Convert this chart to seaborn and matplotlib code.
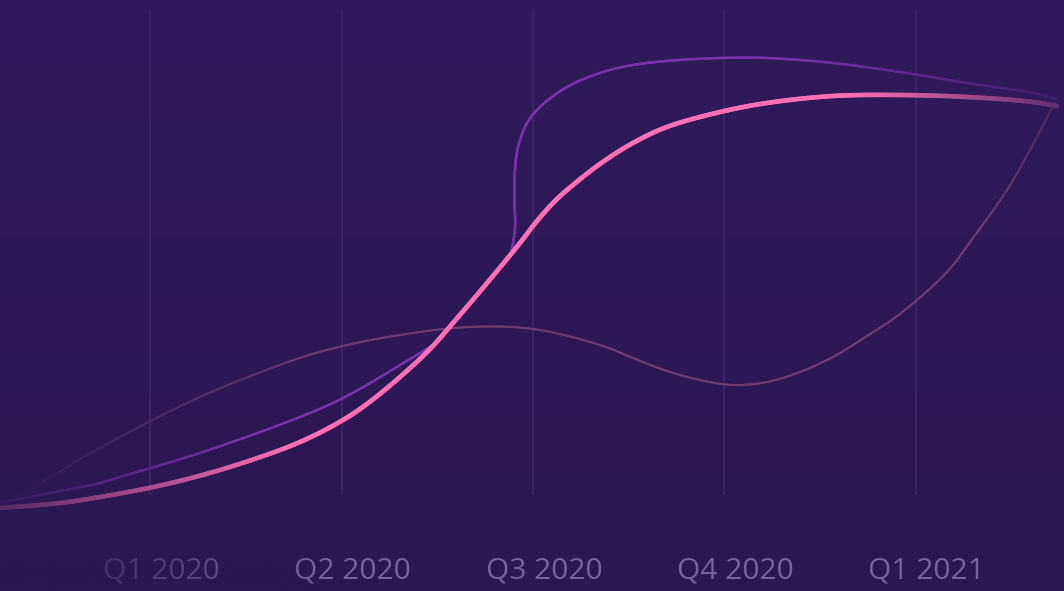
import numpy as np
import matplotlib
matplotlib.use("Agg")
import matplotlib.pyplot as plt
from matplotlib.collections import LineCollection
from matplotlib import transforms
from matplotlib.colors import to_rgb
import seaborn as sns

# --- DATA (x in quarters from Q1 2020, y in index units) ---
QUARTERS = ["Q1 2020", "Q2 2020", "Q3 2020", "Q4 2020", "Q1 2021"]
QUARTER_POS = [0, 1, 2, 3, 4]

PINK_X = [-0.786, -0.473, -0.263, 0.087, 0.432, 0.782, 1.007, 1.132, 1.305, 1.462,
          1.582, 1.760, 1.932, 2.021, 2.105, 2.178, 2.350, 2.523, 2.700, 2.978,
          3.223, 3.568, 3.918, 4.269, 4.614, 4.739]
PINK_Y = [0.44, 1.56, 2.89, 5.78, 9.78, 15.11, 20.0, 23.56, 29.56, 35.78,
          41.56, 50.44, 59.33, 64.22, 68.22, 71.11, 76.89, 81.56, 85.11, 88.44,
          90.44, 92.0, 92.22, 91.78, 90.67, 89.78]

PURPLE_X = [-0.786, -0.525, -0.263, -0.159, 0.259, 0.782, 1.007, 1.305, 1.514, 1.582,
            1.760, 1.843, 1.880, 1.906, 1.903, 1.906, 1.922, 1.969, 2.037, 2.178,
            2.350, 2.523, 2.700, 2.978, 3.223, 3.568, 3.918, 4.269, 4.614, 4.739]
PURPLE_Y = [1.56, 3.78, 6.0, 7.33, 12.67, 20.67, 24.89, 32.22, 38.0, 41.78,
            50.67, 54.67, 56.67, 62.67, 68.89, 75.56, 80.67, 86.0, 89.56, 94.0,
            97.11, 98.89, 99.78, 100.44, 100.44, 99.33, 97.33, 94.89, 92.67, 91.33]

FAINT_X = [-0.786, -0.614, -0.263, 0.259, 0.782, 1.007, 1.305, 1.671, 2.0, 2.350,
           2.523, 2.700, 2.873, 3.045, 3.223, 3.396, 3.568, 3.746, 3.918, 4.164,
           4.300, 4.478, 4.598, 4.729]
FAINT_Y = [0.44, 4.89, 13.78, 25.11, 33.78, 36.44, 38.89, 40.67, 40.22, 36.67,
           33.78, 30.89, 28.89, 27.78, 28.44, 30.67, 34.0, 38.67, 43.56, 52.89,
           60.44, 71.11, 80.0, 90.67]

# --- STYLE ---
BG_TOP = "#301a5b"
BG_BOTTOM = "#2b1751"
XLIM = (-0.786, 4.776)
YLIM = (-18.0, 113.33)
PX = np.array([191.3, 4.5])  # rough pixels per data unit, for curve spacing


def bg_at(y):
    t = np.clip((y - YLIM[0]) / (YLIM[1] - YLIM[0]), 0, 1)[:, None]
    return np.array(to_rgb(BG_BOTTOM)) * (1 - t) + np.array(to_rgb(BG_TOP)) * t


def smooth_path(xy, steps=24):
    # centripetal catmull-rom through the points, like a "smooth" line option
    p = xy * PX
    p = np.vstack([2 * p[0] - p[1], p, 2 * p[-1] - p[-2]])
    out = []
    for i in range(1, len(p) - 2):
        p0, p1, p2, p3 = p[i - 1], p[i], p[i + 1], p[i + 2]
        t0 = 0.0
        t1 = t0 + max(np.linalg.norm(p1 - p0), 1e-6) ** 0.5
        t2 = t1 + max(np.linalg.norm(p2 - p1), 1e-6) ** 0.5
        t3 = t2 + max(np.linalg.norm(p3 - p2), 1e-6) ** 0.5
        for t in np.linspace(t1, t2, steps, endpoint=False):
            a1 = (t1 - t) / (t1 - t0) * p0 + (t - t0) / (t1 - t0) * p1
            a2 = (t2 - t) / (t2 - t1) * p1 + (t - t1) / (t2 - t1) * p2
            a3 = (t3 - t) / (t3 - t2) * p2 + (t - t2) / (t3 - t2) * p3
            b1 = (t2 - t) / (t2 - t0) * a1 + (t - t0) / (t2 - t0) * a2
            b2 = (t3 - t) / (t3 - t1) * a2 + (t - t1) / (t3 - t1) * a3
            out.append((t2 - t) / (t2 - t1) * b1 + (t - t1) / (t2 - t1) * b2)
    out.append(p[-2])
    return np.array(out) / PX


def fade_line(ax, line, color, lw, left, right, zorder):
    # turn a seaborn line into a smooth collection that fades at both ends
    xy = line.get_xydata()
    line.remove()
    pts = smooth_path(xy)
    segs = np.stack([pts[:-1], pts[1:]], axis=1)
    mid = segs.mean(axis=1)
    x0, x1, a0 = left
    x2, x3, a1 = right
    aleft = a0 + (1 - a0) * np.clip((mid[:, 0] - x0) / (x1 - x0), 0, 1)
    aright = a1 + (1 - a1) * np.clip((x3 - mid[:, 0]) / (x3 - x2), 0, 1)
    a = np.minimum(aleft, aright)[:, None]
    cols = bg_at(mid[:, 1]) * (1 - a) + np.array(to_rgb(color)) * a
    lc = LineCollection(segs, colors=cols, linewidths=lw, capstyle="round",
                        joinstyle="round", zorder=zorder)
    ax.add_collection(lc)


sns.set_theme(style="dark")
plt.rcParams['font.family'] = ['Open Sans', 'DejaVu Sans']

fig = plt.figure(figsize=(10.64, 5.91), dpi=100)
fig.patch.set_facecolor(BG_BOTTOM)
ax = fig.add_axes([0, 0, 1, 1])

# background gradient
grad = np.linspace(0, 1, 256)[:, None, None]
grad_img = np.array(to_rgb(BG_TOP)) * (1 - grad) + np.array(to_rgb(BG_BOTTOM)) * grad
ax.imshow(grad_img, extent=[XLIM[0], XLIM[1], YLIM[0], YLIM[1]], aspect="auto", zorder=0)

# vertical grid lines
ax.vlines(QUARTER_POS, 3.33, 111.1, color="#3b2668", lw=1.3, zorder=1)

sns.lineplot(x=FAINT_X, y=FAINT_Y, sort=False, estimator=None, ax=ax)
fade_line(ax, ax.lines[-1], "#6f3d70", 1.5, (-0.786, 0.94, 0.0), (4.34, 4.744, 0.35), 2)

sns.lineplot(x=PURPLE_X, y=PURPLE_Y, sort=False, estimator=None, ax=ax)
fade_line(ax, ax.lines[-1], "#7a32ac", 1.8, (-0.786, 0.52, 0.1), (3.3, 4.744, 0.2), 3)

sns.lineplot(x=PINK_X, y=PINK_Y, sort=False, estimator=None, ax=ax)
fade_line(ax, ax.lines[-1], "#ff70b6", 3.3, (-0.786, 0.78, 0.2), (3.66, 4.744, 0.25), 4)

# quarter labels, sitting slightly right of their grid line
offset = transforms.offset_copy(ax.transData, fig=fig, x=11, y=0, units="dots")
for pos, label in zip(QUARTER_POS, QUARTERS):
    ax.text(pos, -13.6, label, transform=offset, ha="center", va="center",
            fontsize=21.5, color="#78649a", zorder=5)

# left edge fade over the label band
alpha = np.clip(1 - np.linspace(0, 340, 256) / 330, 0, 1)
band = np.zeros((1, 256, 4))
band[..., :3] = to_rgb(BG_BOTTOM)
band[..., 3] = alpha
ax.imshow(band, extent=[-0.786, 0.991, YLIM[0], -5.56], aspect="auto", zorder=6)

ax.set_xlim(*XLIM)
ax.set_ylim(*YLIM)
ax.set_axis_off()

plt.savefig("out.png", dpi=100, facecolor=fig.get_facecolor())
